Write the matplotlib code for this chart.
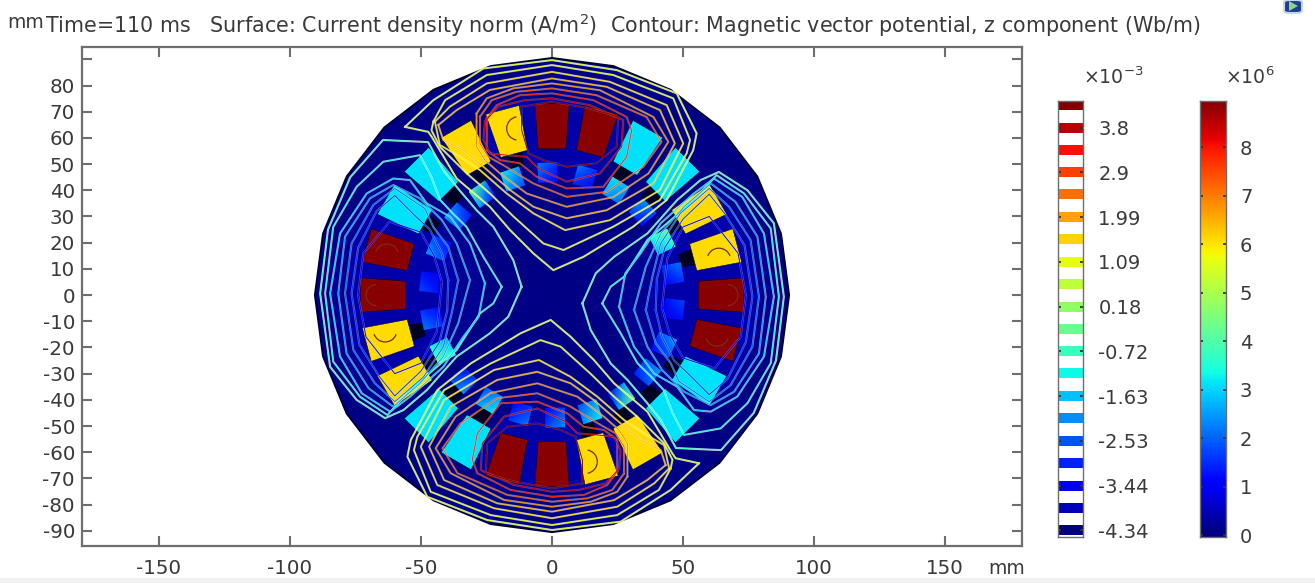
import numpy as np
import matplotlib
matplotlib.use('Agg')
import matplotlib.pyplot as plt
from matplotlib.patches import Rectangle, Polygon, Arc, FancyBboxPatch

plt.rcParams['font.family'] = ['DejaVu Sans']
plt.rcParams['axes.unicode_minus'] = False

# outer boundary of the machine (polygon of the mesh)
rim_angles = [0, 15, 30, 45, 60, 75, 90, 105, 120, 135, 150, 165,
              180, 195, 210, 225, 240, 255, 270, 285, 300, 315, 330, 345]
rim_radius = 90.5

# stator slots: angle (deg), current density (1e6 A/m2)
coil_angles = [0, 15, 30, 45, 60, 75, 90, 105, 120, 135, 150, 165,
               180, 195, 210, 225, 240, 255, 270, 285, 300, 315, 330, 345]
coil_values = [8.85, 6.05, 6.05, 3.1, 3.1, 8.85, 8.85, 6.05, 6.05, 3.1, 3.1, 8.85,
               8.85, 6.05, 6.05, 3.1, 3.1, 8.85, 8.85, 6.05, 6.05, 3.1, 3.1, 8.85]

# rotor bars: angle (deg), lowest and highest density across the bar
bar_angles = [25.7, 10, -6.6, -23.9, -39, -55.5, -72, -88.6, -104.9, -120.7, -136, -153,
              -169, 174, 157.5, 140, 124.6, 108.7, 92, 74.4, 58.6, 42.3]
bar_low = [2.6, 0.9, 0.8, 1.0, 1.3, 1.0, 1.8, 1.0, 0.9, 1.8, 1.0, 2.6,
           1.0, 0.8, 1.0, 1.3, 1.0, 1.8, 0.9, 0.8, 2.0, 1.0]
bar_high = [4.2, 2.2, 1.7, 2.6, 2.5, 4.2, 3.2, 2.4, 2.2, 3.2, 2.5, 4.2,
            2.2, 1.7, 2.5, 2.6, 4.2, 3.2, 2.2, 2.2, 3.2, 2.5]

# contour loops of the top pole (mm), the bottom pole is the same turned by 180 deg
top_levels = [0.9, 1.1, 1.4, 1.8, 2.2, 2.7, 3.2, 3.75, 4.26]
top_loops = [
    [(-56.1, 64.2), (-45.3, 74.4), (-26.2, 86.5), (0, 89.7), (24.7, 85.9), (47.6, 77), (55.2, 61.7), (53.9, 55.3),
     (43.8, 36.3), (31, 26.1), (12, 14.6), (0.5, 9.5), (-7.1, 15.9), (-16, 24.8), (-23.7, 33.7), (-36.4, 44.5),
     (-45.9, 60.4), (-47.2, 62.3)],
    [(-45.3, 66.2), (-40.8, 74.4), (-24.9, 84), (0, 87.8), (23.4, 84), (46.3, 75.1), (52.7, 59.2), (51.4, 54.1),
     (41.2, 36.3), (23.4, 26.1), (4.4, 17.2), (-3.3, 19.7), (-14.8, 30.1), (-23.7, 38.8), (-32.6, 46.5),
     (-42.8, 56.6), (-46, 62.9)],
    [(-44.7, 66.2), (-39, 71.9), (-24.9, 80.8), (0, 85.2), (22.1, 81.4), (43.8, 72.5), (50.1, 57.9), (41.2, 40.1),
     (22.1, 28.6), (5, 24.8), (-7.1, 31.2), (-17.3, 38.8), (-27.5, 47.7), (-35.1, 52.8), (-42.8, 57.3)],
    [(-43.4, 64.9), (-36.4, 70.6), (-23.7, 78.3), (0, 82.7), (20.9, 79.5), (41.2, 70.6), (46.9, 57.9), (38.7, 42.6),
     (20.9, 32.4), (5.6, 29.3), (-7.1, 33.7), (-16, 40.1), (-26.2, 49), (-33.8, 55.3), (-41.5, 59.2)],
    [(-28.8, 69.3), (-24.9, 75.1), (-14.8, 78.9), (0, 80.8), (18.3, 78.2), (38.7, 68), (44.4, 58.5), (36.8, 46.4),
     (23.4, 37.4), (5.6, 33.7), (-9.7, 38.8), (-19.8, 46.4), (-25.6, 51.5), (-28.8, 56.6)],
    [(-27.5, 68.1), (-23, 74.4), (-13.5, 77.6), (0, 78.9), (17, 76.3), (36.1, 68), (41.8, 58.5), (34.9, 49),
     (20.9, 39.4), (5.6, 37.5), (-7.1, 42.6), (-18.6, 49.6), (-24.3, 52.8), (-27.5, 57.9)],
    [(-24.9, 67.4), (-21.1, 72.5), (-12.2, 76.3), (0, 77), (15.8, 74.4), (28.5, 68), (30.4, 62.8), (28.5, 52.8),
     (19.6, 41.3), (5.6, 40.7), (-5.9, 45.2), (-12.2, 50.3), (-19.8, 51.5), (-24.9, 55.3)],
    [(-25.6, 66.2), (-20.5, 71.9), (-10.3, 74.4), (0, 75.1), (14.5, 72.5), (27.2, 66.8), (26.6, 56.6), (18.3, 46.4),
     (5.6, 43.3), (-5.2, 48.3), (-9.7, 52.8), (-17.3, 53.4), (-23.7, 54.1), (-26.2, 59.2)],
    [(-11.6, 71.9), (0, 73.8), (14.5, 71.2), (25.3, 68), (24.7, 56.6), (17, 50.3), (5.6, 49), (-3.3, 51.5),
     (-9, 54.1), (-11.6, 63)],
]

# contour loops of the left pole (mm), the right pole is the same turned by 180 deg
side_levels = [-0.55, -1.0, -1.45, -1.9, -2.35, -2.8, -3.25]
side_loops = [
    [(-11.6, 3.2), (-14.8, 13.4), (-22.4, 26.1), (-28.8, 32.4), (-36.4, 41.3), (-41.5, 47.7), (-47.3, 58.4),
     (-64.5, 59.2), (-77, 45), (-85.5, 25), (-88.5, 0.6), (-84.7, -27.4), (-74.6, -40), (-63.7, -47), (-56.7, -43.9),
     (-47.8, -36.3), (-36.4, -23.5), (-23.7, -14.6), (-16.7, -8.3)],
    [(-19.2, 3.2), (-26.2, 14.6), (-32.6, 26), (-37.7, 31), (-42.7, 36.3), (-46, 45), (-50.4, 53.4), (-64.4, 50.9),
     (-74.6, 41.3), (-83.5, 26), (-86.6, 0.6), (-83.5, -25.4), (-73.3, -38.8), (-62.8, -45.8), (-54.2, -36.3),
     (-45.3, -28.6), (-36.4, -21), (-27.5, -7), (-22.4, -3.2)],
    [(-25.6, 4.5), (-31.3, 19.7), (-38.9, 29.9), (-47.8, 35), (-54.2, 43.9), (-60.6, 44.5), (-70.7, 38.8),
     (-80.9, 23.5), (-84.7, 0.6), (-80.9, -23.5), (-72.6, -37.5), (-61.8, -44.5), (-54.2, -38.8), (-41.5, -27.4),
     (-33.8, -15.9), (-28, -8.3)],
    [(-31.3, 5.7), (-36.4, 19.7), (-42, 28.6), (-50.4, 36.9), (-60.6, 42), (-69.5, 36.9), (-79, 22.3), (-81.6, 0.6),
     (-78.4, -22.3), (-70, -35.6), (-60.6, -42.6), (-50.4, -33.7), (-41.5, -23.5), (-35.8, -10.8)],
    [(-35.8, 5.7), (-39.6, 18.4), (-45.3, 26), (-48.5, 33), (-60, 40.7), (-68.2, 34.4), (-76.5, 19.7), (-79, 0.6),
     (-75.8, -21), (-67.6, -33.7), (-60, -40.7), (-49, -31.2), (-41.5, -19.7), (-38.3, -7)],
    [(-39.6, 5.7), (-42, 15.9), (-46.6, 25), (-52, 30), (-60, 38), (-67, 32), (-74, 18), (-76.5, 0.6), (-73.5, -19),
     (-66, -31), (-60, -38.5), (-50, -29), (-43, -18), (-40, -6)],
    [(-42, 5), (-45, 15), (-50, 24), (-62, 28), (-72, 16), (-74, 0), (-71, -16), (-60, -30), (-50, -26), (-44, -14)],
]

# small open arcs around the flux maxima: x, y, diameter (mm), first and last angle
rings = [(-12.8, 63.6, 9, 100, 260), (-63, 15, 9, 20, 160), (-63.7, -13.4, 9, 200, 340), (-67, 0, 8, 90, 270)]

contour_ticks = [-4.34, -3.44, -2.53, -1.63, -0.72, 0.18, 1.09, 1.99, 2.9, 3.8]
contour_bands = [-4.34, -3.89, -3.44, -2.99, -2.53, -2.08, -1.63, -1.17, -0.72, -0.27,
                 0.18, 0.64, 1.09, 1.54, 1.99, 2.45, 2.9, 3.35, 3.8, 4.26]
surface_ticks = [0, 1, 2, 3, 4, 5, 6, 7, 8]

W, H = 1315, 583
text_color = '#3a3a3a'
frame_color = '#6e6e6e'
cmap = plt.get_cmap('jet')
norm = plt.Normalize(0, 8.95)
norm2 = plt.Normalize(-4.34, 4.26)

fig = plt.figure(figsize=(W / 100, H / 100), dpi=100)
ax = fig.add_axes([82 / W, (H - 546) / H, 940 / W, 499 / H])
ax.set_xlim(-179.4, 179.4)
ax.set_ylim(-95.8, 94.7)


def quad(angle, r0, r1, w0, w1):
    t = np.deg2rad(angle)
    ur = np.array([np.cos(t), np.sin(t)])
    ut = np.array([-np.sin(t), np.cos(t)])
    return np.array([ur * r0 - ut * w0, ur * r0 + ut * w0, ur * r1 + ut * w1, ur * r1 - ut * w1])


# machine disc
t = np.deg2rad(rim_angles)
disc = np.column_stack([rim_radius * np.cos(t), rim_radius * np.sin(t)])
ax.add_patch(Polygon(disc, closed=True, fc=cmap(norm(0.05)), ec='#000030', lw=1.4, zorder=1))

# brighter iron around the poles
for sign in (1, -1):
    ax.add_patch(Polygon(sign * np.array(side_loops[2]), fc=cmap(norm(0.15)), ec='none', zorder=1.2))
    ax.add_patch(Polygon(sign * np.array(side_loops[4]), fc=cmap(norm(0.32)), ec='none', zorder=1.3))
    ax.add_patch(Polygon(sign * np.array(top_loops[7]), fc=cmap(norm(0.32)), ec='none', zorder=1.3))

# dark air gaps under the slots, coils, rotor bars
for a, v in zip(coil_angles, coil_values):
    if v < 8:
        ax.add_patch(Polygon(quad(a, 50.5, 56, 2.5, 3.2), fc='#000020', ec='none', zorder=1.5))
for a, v in zip(coil_angles, coil_values):
    ax.add_patch(Polygon(quad(a, 55.8, 73.2, 5.3, 6.6), fc=cmap(norm(v)), ec='#000030', lw=0.4, zorder=2))
for a, lo, hi in zip(bar_angles, bar_low, bar_high):
    q = quad(a, 43.2, 50.4, 3.6, 3.6)
    X = np.array([[q[0, 0], q[1, 0]], [q[3, 0], q[2, 0]]])
    Y = np.array([[q[0, 1], q[1, 1]], [q[3, 1], q[2, 1]]])
    C = np.array([[lo, (lo + hi) / 2], [(lo + hi) / 2, hi]])
    ax.pcolormesh(X, Y, C, shading='gouraud', cmap=cmap, norm=norm, zorder=2)

# contour lines, pale halo under the coloured line
for loops, levels in ((top_loops, top_levels), (side_loops, side_levels)):
    for i, (loop, lev) in enumerate(zip(loops, levels)):
        pts = np.array(loop + [loop[0]])
        col = cmap(norm2(lev))
        halo = 0.75 - 0.07 * i
        for sign in (1, -1):
            ax.plot(sign * pts[:, 0], sign * pts[:, 1], color='white', alpha=halo, lw=1.5,
                    solid_joinstyle='round', zorder=3)
            ax.plot(sign * pts[:, 0], sign * pts[:, 1], color=col, lw=0.7,
                    solid_joinstyle='round', zorder=3.1)
for x, y, d, a0, a1 in rings:
    for sign in (1, -1):
        rot = 0 if sign == 1 else 180
        ax.add_patch(Arc((sign * x, sign * y), d, d, angle=rot, theta1=a0, theta2=a1,
                         ec='#7a2a20', lw=0.9, zorder=3.2))

ax.set_xticks([-150, -100, -50, 0, 50, 100, 150])
ax.set_yticks(np.arange(-90, 91, 10))
ax.set_yticklabels([str(v) if v < 90 else '' for v in range(-90, 91, 10)])
ax.tick_params(direction='in', top=True, right=True, length=7, width=1.5, color=frame_color,
               labelsize=14.3, labelcolor=text_color, pad=5)
ax.tick_params(axis='x', pad=9)
for s in ax.spines.values():
    s.set_color(frame_color)
    s.set_linewidth(1.6)

fig.text(45 / W, 1 - 25 / H, 'Time=110 ms   Surface: Current density norm (A/m$\\mathregular{^2}$)  '
         'Contour: Magnetic vector potential, z component (Wb/m)', fontsize=14.85, color=text_color, va='center')
fig.text(7 / W, 1 - 22 / H, 'mm', fontsize=13.5, color=text_color, va='center')
fig.text(988 / W, 1 - 568 / H, 'mm', fontsize=13.5, color=text_color, va='center')

# contour colour legend
cax = fig.add_axes([1058 / W, (H - 537) / H, 25 / W, 436 / H])
cax.set_xlim(0, 1)
cax.set_ylim(-4.48, 4.34)
cax.barh(contour_bands, [1] * len(contour_bands), height=0.2, left=0,
         color=[cmap(norm2(v)) for v in contour_bands])
cax.set_xticks([])
cax.set_yticks(contour_ticks)
cax.set_yticklabels([str(v) for v in contour_ticks])
cax.yaxis.tick_right()
cax.tick_params(axis='y', direction='in', left=True, right=True, length=2.5, width=1.3, color='#333333',
                labelsize=14, labelcolor=text_color, pad=11)
for s in cax.spines.values():
    s.set_color(frame_color)
    s.set_linewidth(1.0)
fig.text(1083 / W, 1 - 77 / H, '\u00d710$\\mathregular{^{-3}}$', fontsize=13.6, color=text_color, va='center')

# surface colour legend
sax = fig.add_axes([1200 / W, (H - 537) / H, 26 / W, 436 / H])
grad = np.linspace(-0.04, 8.95, 257)
sax.pcolormesh([0, 1], grad, grad[:-1].reshape(-1, 1), cmap=cmap, norm=norm, shading='flat')
sax.set_xlim(0, 1)
sax.set_ylim(-0.04, 8.95)
sax.set_xticks([])
sax.set_yticks(surface_ticks)
sax.yaxis.tick_right()
sax.tick_params(axis='y', direction='in', left=True, right=True, length=2.5, width=1.3, color='#333333',
                labelsize=14, labelcolor=text_color, pad=10)
for s in sax.spines.values():
    s.set_color(frame_color)
    s.set_linewidth(1.0)
fig.text(1225 / W, 1 - 77 / H, '\u00d710$\\mathregular{^{6}}$', fontsize=13.6, color=text_color, va='center')

# corner icon and bottom strip of the window
fig.add_artist(Rectangle((0, 0), 1, 5 / H, transform=fig.transFigure, fc='#f2f2f2', ec='none'))
fig.add_artist(FancyBboxPatch((1284 / W, 1 - 13 / H), 18 / W, 13 / H, boxstyle='round,pad=0,rounding_size=0.004',
                              transform=fig.transFigure, fc='#1d3f8f', ec='#c9d4e6', lw=1.5))
fig.add_artist(Polygon([(1289 / W, 1 - 11 / H), (1298 / W, 1 - 6 / H), (1289 / W, 1 - 1 / H)],
                       transform=fig.transFigure, fc='#8fd08a', ec='none'))

fig.savefig('out.png', dpi=100)
